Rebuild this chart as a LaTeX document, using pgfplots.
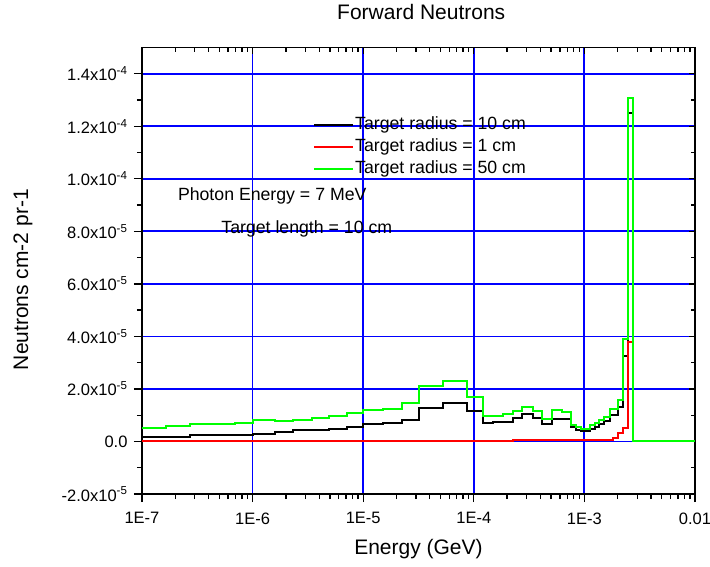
\documentclass[border=0pt]{standalone}
\usepackage{fontspec}
\setmainfont{Liberation Sans}
\usepackage{pgfplots}
\pgfplotsset{compat=1.18}
\definecolor{gblue}{RGB}{0,0,255}
\definecolor{ggreen}{RGB}{0,255,0}
\definecolor{gred}{RGB}{255,0,0}
\begin{document}
\begin{tikzpicture}
\path[use as bounding box] (-142pt,-72pt) rectangle (568pt,494pt);
% background axis: blue grid and inward ticks on top and right
\begin{axis}[
  at={(0pt,0pt)}, anchor=south west,
  scale only axis, width=553pt, height=446.5pt,
  xmode=log, xmin=1e-7, xmax=1e-2,
  ymin=-2e-5, ymax=1.5e-4,
  scaled y ticks=false,
  xtick={1e-7,1e-6,1e-5,1e-4,1e-3,1e-2},
  minor xtick={2e-7,3e-7,4e-7,5e-7,6e-7,7e-7,8e-7,9e-7,
               2e-6,3e-6,4e-6,5e-6,6e-6,7e-6,8e-6,9e-6,
               2e-5,3e-5,4e-5,5e-5,6e-5,7e-5,8e-5,9e-5,
               2e-4,3e-4,4e-4,5e-4,6e-4,7e-4,8e-4,9e-4,
               2e-3,3e-3,4e-3,5e-3,6e-3,7e-3,8e-3,9e-3},
  ytick={-2e-5,0,2e-5,4e-5,6e-5,8e-5,1e-4,1.2e-4,1.4e-4},
  minor y tick num=1,
  xticklabels={}, yticklabels={},
  xtick pos=right, ytick pos=right,
  tick align=inside,
  major tick length=6pt, minor tick length=4pt,
  tick style={black, line width=1.3pt},
  grid=major, major grid style={gblue, line width=1.8pt},
  axis line style={line width=1.5pt},
]
\end{axis}
\begin{axis}[
  at={(0pt,0pt)}, anchor=south west,
  scale only axis, width=553pt, height=446.5pt,
  xmode=log, xmin=1e-7, xmax=1e-2,
  ymin=-2e-5, ymax=1.5e-4,
  scaled y ticks=false,
  xtick={1e-7,1e-6,1e-5,1e-4,1e-3,1e-2},
  xticklabels={1E-7,1E-6,1E-5,1E-4,1E-3,0.01},
  minor xtick={2e-7,3e-7,4e-7,5e-7,6e-7,7e-7,8e-7,9e-7,
               2e-6,3e-6,4e-6,5e-6,6e-6,7e-6,8e-6,9e-6,
               2e-5,3e-5,4e-5,5e-5,6e-5,7e-5,8e-5,9e-5,
               2e-4,3e-4,4e-4,5e-4,6e-4,7e-4,8e-4,9e-4,
               2e-3,3e-3,4e-3,5e-3,6e-3,7e-3,8e-3,9e-3},
  ytick={-2e-5,0,2e-5,4e-5,6e-5,8e-5,1e-4,1.2e-4,1.4e-4},
  yticklabels={-2.0x10\textsuperscript{-5},0.0,2.0x10\textsuperscript{-5},4.0x10\textsuperscript{-5},6.0x10\textsuperscript{-5},8.0x10\textsuperscript{-5},1.0x10\textsuperscript{-4},1.2x10\textsuperscript{-4},1.4x10\textsuperscript{-4}},
  minor y tick num=1,
  xtick pos=left, ytick pos=left,
  tick align=outside,
  major tick length=8pt, minor tick length=5pt,
  tick style={black, line width=1.3pt},
  axis line style={line width=1.5pt},
  tick label style={font=\fontsize{16.5}{19}\selectfont},
  xticklabel style={yshift=-7pt},
  yticklabel style={xshift=-3pt},
  title={Forward Neutrons},
  title style={at={(axis description cs:0.505,1.067)}, anchor=center, font=\fontsize{21}{24}\selectfont},
  xlabel={Energy (GeV)},
  xlabel style={at={(axis description cs:0.5,-0.124)}, anchor=center, font=\fontsize{21}{24}\selectfont},
  ylabel={Neutrons cm-2 pr-1},
  ylabel style={at={(axis description cs:-0.215,0.48)}, anchor=center, font=\fontsize{21}{24}\selectfont},
  legend image code/.code={\draw[#1] (0pt,0pt) -- (39pt,0pt);},
  legend cell align=left,
  legend style={at={(axis description cs:0.3092,0.849)}, anchor=north west, draw=none, fill=none,
    inner sep=0pt, row sep=2pt, font=\fontsize{17.7}{21}\selectfont,
    nodes={inner sep=1pt, text height=13.5pt, text depth=4.5pt}},
]
\addplot[black, line width=2pt, line join=miter] coordinates {
(1e-7,0.167e-5) (2.72e-7,0.167e-5) (2.72e-7,0.228e-5) (1e-6,0.228e-5)
(1e-6,0.293e-5) (1.60e-6,0.293e-5) (1.60e-6,0.357e-5) (2.31e-6,0.357e-5)
(2.31e-6,0.418e-5) (4.94e-6,0.418e-5) (4.94e-6,0.483e-5) (7.10e-6,0.483e-5)
(7.10e-6,0.548e-5) (1e-5,0.548e-5) (1e-5,0.662e-5) (1.52e-5,0.662e-5)
(1.52e-5,0.722e-5) (2.23e-5,0.722e-5) (2.23e-5,0.825e-5) (3.20e-5,0.825e-5)
(3.20e-5,1.27e-5) (5.24e-5,1.27e-5) (5.24e-5,1.46e-5) (8.63e-5,1.46e-5)
(8.63e-5,1.15e-5) (1.22e-4,1.15e-5) (1.22e-4,0.70e-5) (1.50e-4,0.70e-5)
(1.50e-4,0.76e-5) (2.28e-4,0.76e-5) (2.28e-4,0.89e-5) (2.75e-4,0.89e-5)
(2.75e-4,1.027e-5) (3.41e-4,1.027e-5) (3.41e-4,0.89e-5) (4.11e-4,0.89e-5)
(4.11e-4,0.662e-5) (5.06e-4,0.662e-5) (5.06e-4,0.87e-5) (7.57e-4,0.87e-5)
(7.57e-4,0.548e-5) (8.40e-4,0.548e-5) (8.40e-4,0.445e-5) (9.23e-4,0.445e-5)
(9.23e-4,0.38e-5) (1.12e-3,0.38e-5) (1.12e-3,0.471e-5) (1.25e-3,0.471e-5)
(1.25e-3,0.57e-5) (1.36e-3,0.57e-5) (1.36e-3,0.662e-5) (1.50e-3,0.662e-5)
(1.50e-3,0.787e-5) (1.70e-3,0.787e-5) (1.70e-3,1.015e-5) (2.03e-3,1.015e-5)
(2.03e-3,1.33e-5) (2.22e-3,1.33e-5) (2.22e-3,3.26e-5) (2.49e-3,3.26e-5)
(2.49e-3,12.52e-5) (2.74e-3,12.52e-5) (2.74e-3,0) (1e-2,0)
};
\addlegendentry{Target radius = 10 cm}
\addplot[gred, line width=2pt, line join=miter] coordinates {
(1e-7,0) (2.28e-4,0) (2.28e-4,0.04e-5) (1.82e-3,0.04e-5)
(1.82e-3,0.13e-5) (2.03e-3,0.13e-5) (2.03e-3,0.34e-5) (2.22e-3,0.34e-5)
(2.22e-3,0.51e-5) (2.49e-3,0.51e-5) (2.49e-3,3.80e-5) (2.74e-3,3.80e-5)
(2.74e-3,0) (1e-2,0)
};
\addlegendentry{Target radius = 1 cm}
\addplot[ggreen, line width=2pt, line join=miter] coordinates {
(1e-7,0.51e-5) (1.65e-7,0.51e-5) (1.65e-7,0.586e-5) (2.72e-7,0.586e-5)
(2.72e-7,0.66e-5) (6.93e-7,0.66e-5) (6.93e-7,0.72e-5) (1e-6,0.72e-5)
(1e-6,0.825e-5) (1.60e-6,0.825e-5) (1.60e-6,0.787e-5) (2.31e-6,0.787e-5)
(2.31e-6,0.83e-5) (3.42e-6,0.83e-5) (3.42e-6,0.89e-5) (4.94e-6,0.89e-5)
(4.94e-6,0.966e-5) (7.10e-6,0.966e-5) (7.10e-6,1.10e-5) (1e-5,1.10e-5)
(1e-5,1.194e-5) (1.52e-5,1.194e-5) (1.52e-5,1.255e-5) (2.23e-5,1.255e-5)
(2.23e-5,1.46e-5) (3.20e-5,1.46e-5) (3.20e-5,2.12e-5) (5.24e-5,2.12e-5)
(5.24e-5,2.30e-5) (8.63e-5,2.30e-5) (8.63e-5,1.70e-5) (1.22e-4,1.70e-5)
(1.22e-4,0.977e-5) (1.85e-4,0.977e-5) (1.85e-4,1.053e-5) (2.28e-4,1.053e-5)
(2.28e-4,1.156e-5) (2.75e-4,1.156e-5) (2.75e-4,1.308e-5) (3.41e-4,1.308e-5)
(3.41e-4,1.156e-5) (4.11e-4,1.156e-5) (4.11e-4,0.852e-5) (5.06e-4,0.852e-5)
(5.06e-4,1.19e-5) (6.24e-4,1.19e-5) (6.24e-4,1.118e-5) (7.57e-4,1.118e-5)
(7.57e-4,0.635e-5) (8.40e-4,0.635e-5) (8.40e-4,0.548e-5) (9.23e-4,0.548e-5)
(9.23e-4,0.471e-5) (1.12e-3,0.471e-5) (1.12e-3,0.635e-5) (1.25e-3,0.635e-5)
(1.25e-3,0.722e-5) (1.36e-3,0.722e-5) (1.36e-3,0.825e-5) (1.50e-3,0.825e-5)
(1.50e-3,0.95e-5) (1.70e-3,0.95e-5) (1.70e-3,1.23e-5) (2.03e-3,1.23e-5)
(2.03e-3,1.586e-5) (2.22e-3,1.586e-5) (2.22e-3,3.89e-5) (2.49e-3,3.89e-5)
(2.49e-3,13.06e-5) (2.74e-3,13.06e-5) (2.74e-3,0) (1e-2,0)
};
\addlegendentry{Target radius = 50 cm}
\node[font=\fontsize{17.7}{20}\selectfont] at (axis description cs:0.2355,0.667) {Photon Energy = 7 MeV};
\node[font=\fontsize{17.7}{20}\selectfont] at (axis description cs:0.298,0.593) {Target length = 10 cm};
\end{axis}
\end{tikzpicture}
\end{document}
